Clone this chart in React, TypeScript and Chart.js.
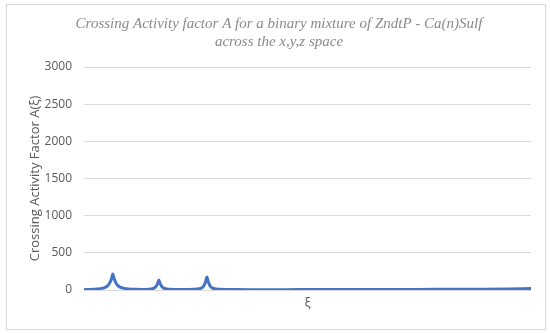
import React, { useEffect, useRef } from "react";
import { Chart, registerables } from "chart.js";

Chart.register(...registerables);

const titleLines = [
  "Crossing Activity factor A for a binary mixture of ZndtP - Ca(n)Sulf",
  "across the x,y,z space",
];
const yAxisTitle = "Crossing Activity Factor A(\u03be)";
const xAxisTitle = "\u03be";

const xiValues = [
  0, 3, 6, 8, 9.5, 10.7, 11.6, 12.3, 12.9, 13.5,
  14.2, 15.1, 16.3, 18, 20, 23, 26,
  29, 30.5, 31.6, 32.4, 33, 33.5, 34, 34.6, 35.4, 36.5, 38, 41, 45,
  49, 51.5, 52.8, 53.7, 54.4, 55, 55.6, 56.3, 57.2, 58.5, 60.5, 63, 67,
  75, 90, 105, 120, 135, 150, 165, 178, 190, 200,
];
const activityValues = [
  5, 8, 14, 22, 35, 60, 100, 150, 215, 150,
  100, 60, 35, 22, 14, 9, 7,
  10, 16, 30, 55, 90, 135, 90, 55, 30, 16, 10, 7, 6,
  9, 16, 30, 60, 110, 175, 110, 60, 30, 16, 10, 7, 6,
  5, 5, 6, 6, 7, 8, 9, 10, 13, 20,
];
const yTicks = [0, 500, 1000, 1500, 2000, 2500, 3000];

export default function App() {
  const canvasRef = useRef<HTMLCanvasElement | null>(null);

  useEffect(() => {
    if (!canvasRef.current) return;
    const points = xiValues.map((x, i) => ({ x, y: activityValues[i] }));
    const chart = new Chart(canvasRef.current, {
      type: "line",
      data: {
        datasets: [
          {
            data: points,
            borderColor: "#4472C4",
            borderWidth: 3,
            pointRadius: 0,
            cubicInterpolationMode: "monotone",
            fill: false,
          },
        ],
      },
      options: {
        animation: false,
        responsive: false,
        maintainAspectRatio: false,
        layout: { padding: { left: 27, right: 19, top: 0, bottom: 0 } },
        plugins: {
          legend: { display: false },
          tooltip: { enabled: false },
          title: {
            display: true,
            text: titleLines,
            color: "#8a8a8a",
            font: { family: "'Liberation Serif', serif", size: 15, style: "italic", weight: "normal", lineHeight: 1.2 },
            padding: { top: 15, bottom: 16 },
          },
        },
        scales: {
          x: {
            type: "linear",
            min: 0,
            max: 200,
            border: { display: false },
            grid: { display: false, drawTicks: false },
            ticks: { display: false },
            title: {
              display: true,
              text: xAxisTitle,
              color: "#595959",
              font: { family: "'Open Sans', sans-serif", size: 13, lineHeight: 1.2 },
              padding: { top: 0, bottom: 23 },
            },
            afterFit: (s: any) => {
              s.height = 44;
              s.paddingLeft = 0;
              s.paddingRight = 0;
            },
          },
          y: {
            min: 0,
            max: 3000,
            afterBuildTicks: (s: any) => {
              s.ticks = yTicks.map((v) => ({ value: v }));
            },
            border: { display: false },
            grid: { color: "#d9d9d9", lineWidth: 1, drawTicks: false },
            ticks: {
              color: "#595959",
              padding: 12,
              font: { family: "'Open Sans', sans-serif", size: 12 },
              callback: (v: any) => String(v),
            },
            title: {
              display: true,
              text: yAxisTitle,
              color: "#595959",
              font: { family: "'Open Sans', sans-serif", size: 13, lineHeight: 1.2 },
              padding: { top: 0, bottom: 0 },
            },
            afterFit: (s: any) => {
              s.width = 57;
              s.paddingTop = 0;
              s.paddingBottom = 0;
            },
          },
        },
      },
    });
    return () => chart.destroy();
  }, []);

  return (
    <div style={{ position: "absolute", left: 0, top: 0, width: 550, height: 334, background: "#ffffff" }}>
      <div
        style={{
          position: "absolute",
          left: 6,
          top: 4,
          width: 538,
          height: 324,
          border: "1px solid #d9d9d9",
        }}
      />
      <canvas ref={canvasRef} width={550} height={334} style={{ position: "absolute", left: 0, top: 0, width: 550, height: 334 }} />
    </div>
  );
}
